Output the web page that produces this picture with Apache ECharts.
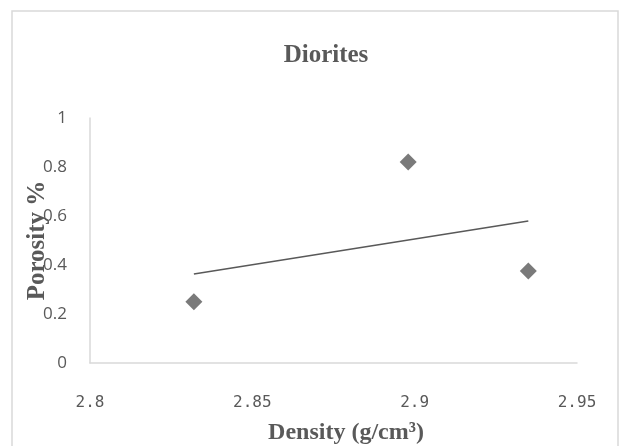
<!DOCTYPE html>
<html>
<head>
<meta charset="utf-8">
<script src="https://cdn.jsdelivr.net/npm/echarts@6/dist/echarts.min.js"></script>
<style>
  html, body { margin: 0; padding: 0; background: #fff; }
  #chart { width: 619px; height: 446px; }
</style>
</head>
<body>
<div id="chart"></div>
<script>
// data
var density = [2.832, 2.898, 2.935];
var porosity = [0.25, 0.82, 0.376];
// linear trendline end points (as drawn)
var trendX = [2.832, 2.935];
var trendY = [0.363, 0.58];

var myChart = echarts.init(document.getElementById("chart"));

var points = density.map(function(d, i) { return [d, porosity[i]]; });
var trend = trendX.map(function(d, i) { return [d, trendY[i]]; });

var grey = "#595959";

var option = {
  backgroundColor: "#fff",
  animation: false,
  title: {
    text: "Diorites",
    left: 321,
    top: 38,
    textAlign: "center",
    textStyle: {
      fontFamily: "Liberation Serif",
      fontWeight: "bold",
      fontSize: 25,
      color: grey
    }
  },
  graphic: [{
    type: "rect",
    shape: { x: 12, y: 11, width: 606, height: 460 },
    style: { fill: "none", stroke: "#d9d9d9", lineWidth: 1.5 },
    silent: true
  }],
  grid: { left: 90, right: 42, top: 118, bottom: 83, outerBoundsMode: "none", containLabel: false },
  xAxis: {
    type: "value",
    min: 2.8,
    max: 2.95,
    interval: 0.05,
    name: "Density (g/cm³)",
    nameLocation: "middle",
    nameGap: 58,
    nameTextStyle: {
      fontFamily: "Liberation Serif",
      fontWeight: "bold",
      fontSize: 24,
      color: grey,
      padding: [0, 0, 0, 25]
    },
    axisLine: { show: true, lineStyle: { color: "#d9d9d9", width: 1.5 } },
    axisTick: { show: false },
    splitLine: { show: false },
    axisLabel: {
      margin: 32,
      fontFamily: "DejaVu Sans Mono",
      fontSize: 16,
      color: grey,
      formatter: function(v) { return String(Math.round(v * 100) / 100); }
    }
  },
  yAxis: {
    type: "value",
    min: 0,
    max: 1,
    interval: 0.2,
    name: "Porosity %",
    nameLocation: "middle",
    nameGap: 40,
    nameMoveOverlap: false,
    nameTextStyle: {
      fontFamily: "Liberation Serif",
      fontWeight: "bold",
      fontSize: 25,
      color: grey
    },
    axisLine: { show: true, lineStyle: { color: "#d9d9d9", width: 1.5 } },
    axisTick: { show: false },
    splitLine: { show: false },
    axisLabel: {
      margin: 23,
      fontFamily: "Open Sans",
      fontSize: 17,
      color: grey
    }
  },
  series: [
    {
      type: "line",
      data: trend,
      symbol: "none",
      lineStyle: { color: grey, width: 1.5 },
      z: 2
    },
    {
      type: "scatter",
      data: points,
      symbol: "diamond",
      symbolSize: 17,
      itemStyle: { color: grey },
      z: 3
    }
  ]
};
myChart.setOption(option);
</script>
</body>
</html>
